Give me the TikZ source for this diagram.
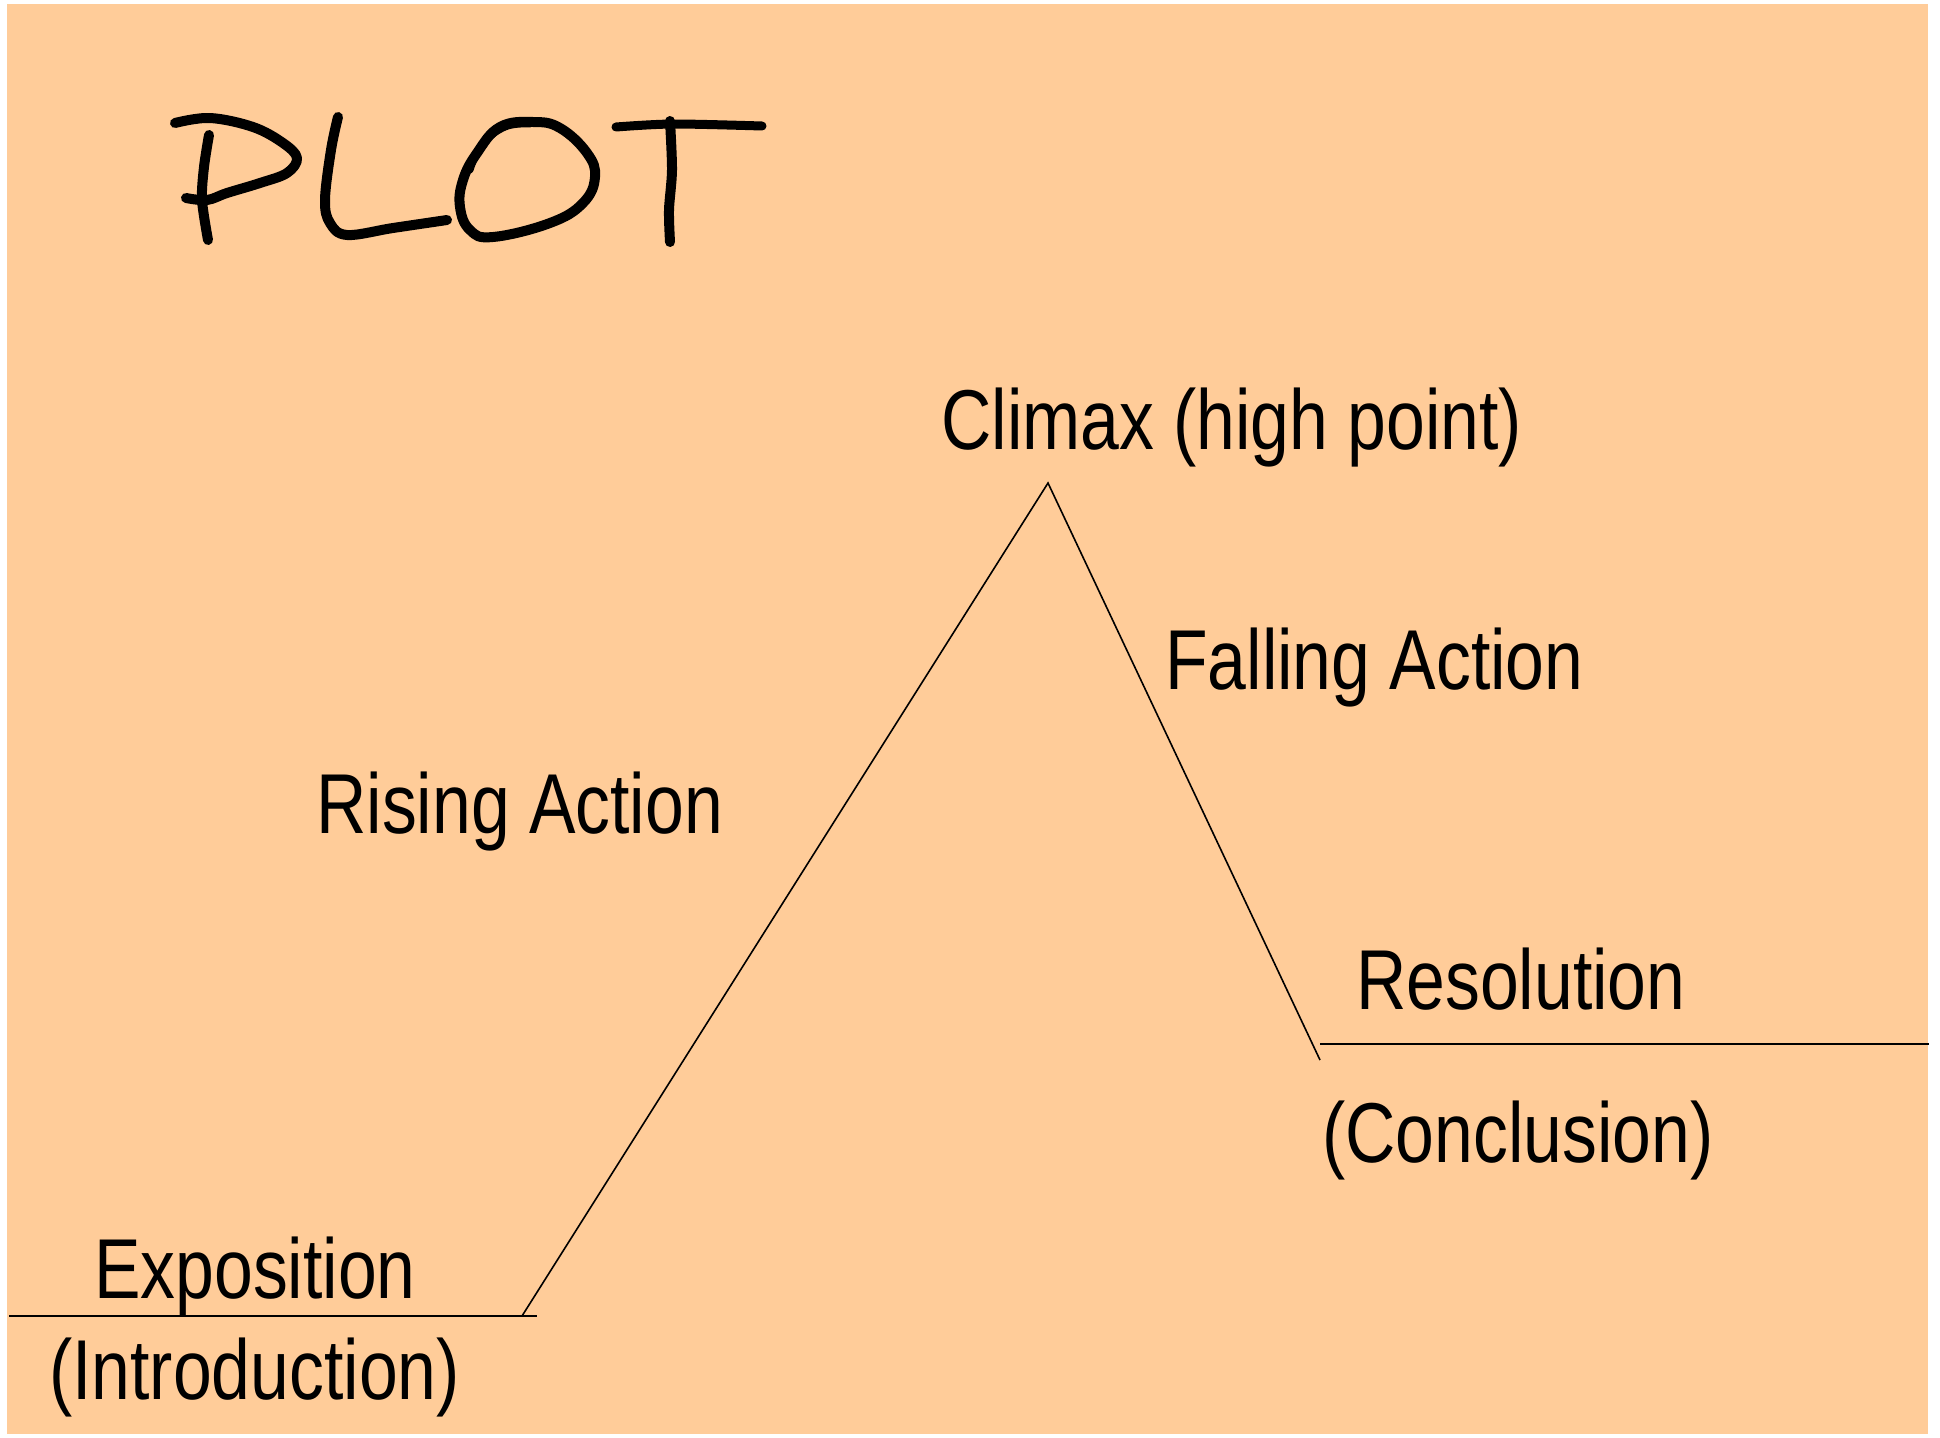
\documentclass[tikz,border=0pt]{standalone}
\usepackage{fontspec}
\newfontfamily\narrow[FakeStretch=0.82]{Liberation Sans}
\definecolor{peach}{RGB}{255,204,153}
\tikzset{
  lbl/.style={anchor=base west, inner sep=0pt, font=\narrow\fontsize{85}{100}\selectfont, text=black},
  hline/.style={draw=black, line width=2.2pt},
  slope/.style={draw=black, line width=1.6pt},
  hand/.style={draw=black, line width=10pt, line cap=round, line join=round}
}
\begin{document}
\begin{tikzpicture}[x=1pt,y=-1pt]
\useasboundingbox (0,0) rectangle (1940,1437);
\fill[white] (0,0) rectangle (1940,1437);
\fill[peach] (7,4) rectangle (1928,1434);

% title PLOT (hand drawn)
% P
\draw[hand] plot[smooth, tension=0.6] coordinates {(175,123) (210,118) (253,127) (283,143) (297,158) (287,173) (260,183) (227,193) (207,200) (186,198)};
\draw[hand] plot[smooth, tension=0.5] coordinates {(209,135) (204,167) (202,200) (208,240)};
% L
\draw[hand] plot[smooth, tension=0.6] coordinates {(338,117) (331,150) (325,200) (330,223) (347,235) (393,228) (447,220)};
% O
\draw[hand] plot[smooth cycle, tension=0.7] coordinates {(500,127) (533,122) (560,128) (587,153) (595,177) (583,203) (550,223) (493,237) (470,230) (460,207) (463,180) (477,153)};
\draw[hand, line width=7pt] plot[smooth, tension=0.7] coordinates {(470,170) (482,145) (505,127) (530,124)};
% T
\draw[hand, line width=9pt] plot[smooth, tension=0.5] coordinates {(616,127) (673,124) (762,126)};
\draw[hand] plot[smooth, tension=0.5] coordinates {(670,121) (672,170) (669,210) (670,242)};

% plot line
\coordinate (e0) at (9,1316);
\coordinate (e1) at (537,1316);
\coordinate (rs) at (522,1316);
\coordinate (pk) at (1048,483);
\coordinate (fe) at (1320,1060);
\coordinate (r0) at (1320,1044);
\coordinate (r1) at (1929,1044);
\draw[hline] (e0) -- (e1);
\draw[slope] (rs) -- (pk) -- (fe);
\draw[hline] (r0) -- (r1);

% labels
\node[lbl] (climax) at (941,449) {Climax (high point)};
\node[lbl] (falling) at (1165,689) {Falling Action};
\node[lbl] (rising) at (316,833) {Rising Action};
\node[lbl] (resol) at (1356,1009) {Resolution};
\node[lbl] (concl) at (1322,1162) {(Conclusion)};
\node[lbl] (expo) at (94,1298) {Exposition};
\node[lbl] (intro) at (49,1399) {(Introduction)};
\end{tikzpicture}
\end{document}
